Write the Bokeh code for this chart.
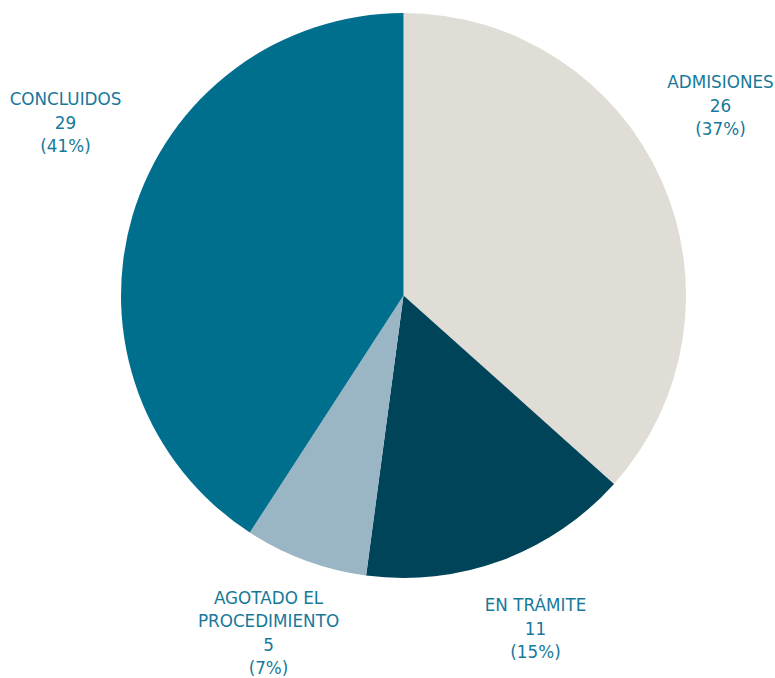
import math
from bokeh.plotting import figure
from bokeh.models import Range1d, ColumnDataSource
from bokeh.core.properties import value
from bokeh.embed import file_html
from bokeh.resources import INLINE

# ---- data ----
categories = ["ADMISIONES", "EN TRÁMITE", "AGOTADO EL\nPROCEDIMIENTO", "CONCLUIDOS"]
counts = [26, 11, 5, 29]
colors = ["#E0DCD6", "#00445A", "#9AB5C3", "#006F8E"]

# ---- layout (screen pixel coordinates of page) ----
W, H = 775, 678
cx, cy, r = 403, 295, 282.5
# label anchor: (center x, y of first line) in page pixels
label_pos = [(720, 81), (535, 604), (268, 597), (65, 98)]
line_h = 23.5
text_color = "#17799A"
FONT = "DejaVu Sans"

p = figure(width=W, height=H, output_backend="svg", toolbar_location=None,
           x_range=Range1d(0, W), y_range=Range1d(0, H),
           min_border=0)
p.axis.visible = False
p.grid.visible = False
p.outline_line_color = None
p.background_fill_color = "white"
p.border_fill_color = "white"

total = sum(counts)
starts, ends = [], []
cum = 0
for c in counts:
    a0 = math.pi / 2 - 2 * math.pi * cum / total
    cum += c
    a1 = math.pi / 2 - 2 * math.pi * cum / total
    starts.append(a1)
    ends.append(a0)

src = ColumnDataSource(dict(start=starts, end=ends, color=colors))
p.wedge(x=cx, y=H - cy, radius=r, radius_units="screen",
        start_angle="start", end_angle="end", fill_color="color",
        line_color=None, source=src)

tx, ty, tt = [], [], []
for name, c, (lx, ly) in zip(categories, counts, label_pos):
    pct = round(100 * c / total)
    lines = name.split("\n") + [str(c), f"({pct}%)"]
    for i, ln in enumerate(lines):
        tx.append(lx)
        ty.append(H - (ly + i * line_h))
        tt.append(ln)

p.text(x=tx, y=ty, text=tt, text_align="center", text_baseline="middle",
       text_font=value(FONT), text_font_size="16.8px", text_color=text_color)

open("out.html", "w").write(file_html(p, INLINE))
